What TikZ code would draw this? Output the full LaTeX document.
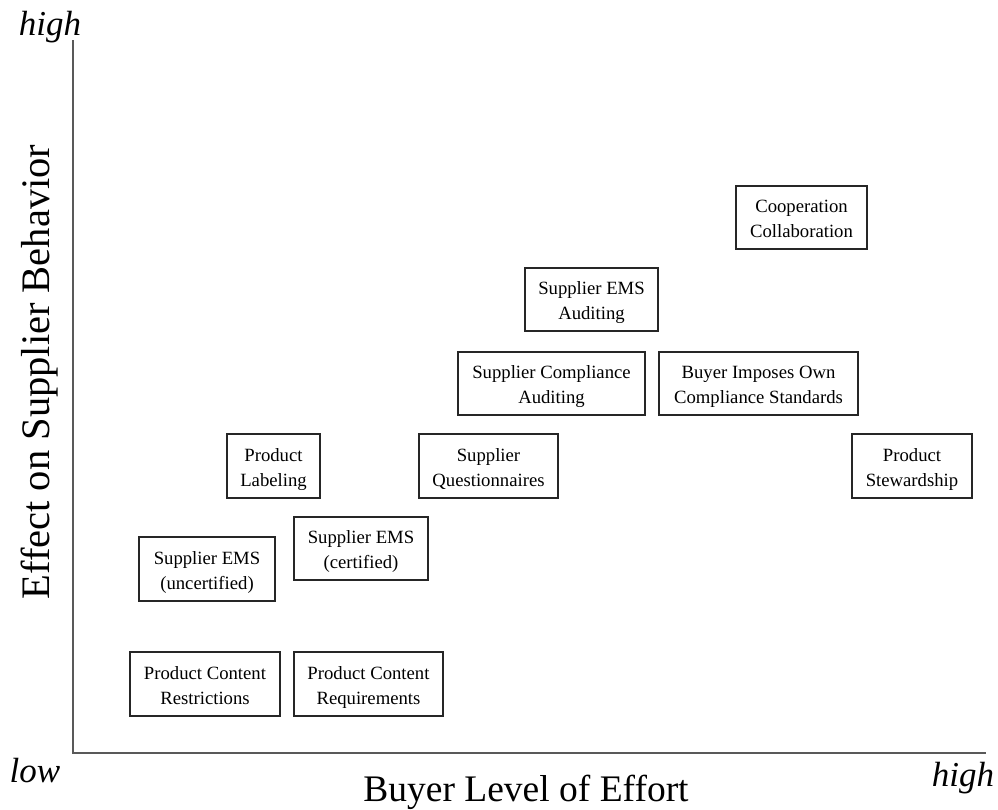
\documentclass[tikz,border=0pt]{standalone}
\usepackage{fontspec}
\setmainfont{Liberation Serif}
\newcommand{\twoln}[2]{\raisebox{-2.5pt}[\height][\depth]{\begin{tabular}{@{}c@{}}#1\\#2\end{tabular}}}
\begin{document}
\begin{tikzpicture}[x=1pt,y=-1pt,
  box/.style={draw=black!85,line width=1.3pt,rectangle,align=center,inner sep=0pt,
    font=\fontsize{18.7}{25}\selectfont},
  axis/.style={draw=black!65,line width=1.8pt},
  axlabel/.style={font=\fontsize{37.5}{40}\selectfont,inner sep=0pt},
  endlabel/.style={font=\fontsize{35}{38}\selectfont\itshape,inner sep=0pt}]
\useasboundingbox (0,0) rectangle (998,809);
\coordinate (top) at (73,40);
\coordinate (origin) at (73,753);
\coordinate (right) at (986,753);
\draw[axis] (top) -- (origin) -- (right);
\node[endlabel] (hightop) at (50,27) {high};
\node[endlabel] (low) at (35,771) {low};
\node[endlabel] (highright) at (963,778) {high};
\node[axlabel] (xlab) at (526,792) {Buyer Level of Effort};
\node[axlabel,rotate=90,font=\fontsize{40.5}{42}\selectfont] (ylab) at (40,372) {Effect on Supplier Behavior};
\node[box,minimum width=150,minimum height=64] (pcr) at (205,684) {\twoln{Product Content}{Restrictions}};
\node[box,minimum width=149,minimum height=64] (pcq) at (368.5,684) {\twoln{Product Content}{Requirements}};
\node[box,minimum width=136,minimum height=64] (semsu) at (207,569) {\twoln{Supplier EMS}{(uncertified)}};
\node[box,minimum width=134,minimum height=63] (semsc) at (361,548.5) {\twoln{Supplier EMS}{(certified)}};
\node[box,minimum width=93,minimum height=64] (pl) at (273.5,466) {\twoln{Product}{Labeling}};
\node[box,minimum width=139,minimum height=64] (sq) at (488.5,466) {\twoln{Supplier}{Questionnaires}};
\node[box,minimum width=187,minimum height=63] (sca) at (551.5,383.5) {\twoln{Supplier Compliance}{Auditing}};
\node[box,minimum width=199,minimum height=63] (bio) at (758.5,383.5) {\twoln{Buyer Imposes Own}{Compliance Standards}};
\node[box,minimum width=133,minimum height=63] (sea) at (591.5,299.5) {\twoln{Supplier EMS}{Auditing}};
\node[box,minimum width=131,minimum height=63] (cc) at (801.5,217.5) {\twoln{Cooperation}{Collaboration}};
\node[box,minimum width=120,minimum height=64] (ps) at (912,466) {\twoln{Product}{Stewardship}};
\end{tikzpicture}
\end{document}
